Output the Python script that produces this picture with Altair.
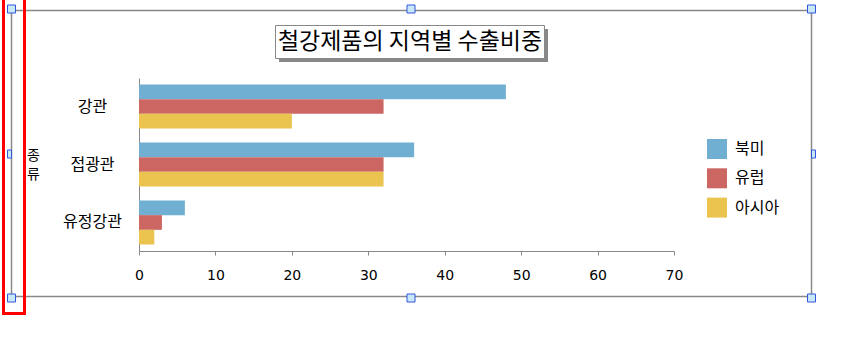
import altair as alt
import pandas as pd

# ---- data ----
categories = ["강관", "접광관", "유정강관"]
regions = ["북미", "유럽", "아시아"]
v_namerica = [48, 36, 6]
v_europe = [32, 32, 3]
v_asia = [20, 32, 2]
x_ticks = [0, 10, 20, 30, 40, 50, 60, 70]
title_text = "철강제품의 지역별 수출비중"
y_title = ["종", "류"]

colors = ["#70AFD1", "#CC6663", "#EBC34F"]

rows = []
for i, c in enumerate(categories):
    for r, vals in zip(regions, [v_namerica, v_europe, v_asia]):
        rows.append({"종류": c, "지역": r, "비중": vals[i]})
df = pd.DataFrame(rows)

# ---- layout (plot area placement) ----
PL, PT = 139, 78          # plot origin in page pixels
W, H = 535, 173
PR = 846 - PL - W
PB = 352 - PT - H

KFONT = "Noto Sans CJK KR"

bars = alt.Chart(df).mark_bar().encode(
    x=alt.X("비중:Q",
            scale=alt.Scale(domain=[0, 70], nice=False),
            axis=alt.Axis(values=x_ticks, title=None, grid=False,
                          domainColor="#888888", tickColor="#888888",
                          tickSize=4, labelFontSize=14, labelFont="DejaVu Sans",
                          labelColor="black", labelPadding=13,
                          labelFlush=False)),
    y=alt.Y("종류:N", sort=categories,
            scale=alt.Scale(paddingInner=0.24, paddingOuter=0.112),
            axis=alt.Axis(title=y_title, titleAngle=0, titleX=-106, titleY=70,
                          titleAlign="center", titleBaseline="top",
                          titleFont=KFONT, titleFontSize=14, titleFontWeight="normal",
                          titleLineHeight=19, titleColor="black",
                          ticks=False, domainColor="#888888",
                          labelFont=KFONT, labelFontSize=16, labelColor="black",
                          labelAlign="center", labelPadding=47)),
    yOffset=alt.YOffset("지역:N", sort=regions,
                        scale=alt.Scale(paddingInner=0, paddingOuter=0)),
    color=alt.Color("지역:N", scale=alt.Scale(domain=regions, range=colors),
                    legend=alt.Legend(title=None, orient="none",
                                      legendX=707 - PL, legendY=139 - PT,
                                      symbolType="square", symbolSize=400,
                                      symbolStrokeWidth=0, symbolOpacity=1,
                                      labelFont=KFONT, labelFontSize=16,
                                      labelColor="black", labelOffset=8,
                                      rowPadding=9.3, padding=0)),
)

one = alt.Data(values=[{}])


def box(x1, y1, x2, y2, **kw):
    """Decoration rectangle given in page pixels."""
    return alt.Chart(one).mark_rect(**kw).encode(
        x=alt.value(x1 - PL), x2=alt.value(x2 - PL),
        y=alt.value(y1 - PT), y2=alt.value(y2 - PT))


layers = []
# outer chart frame
layers.append(box(11.5, 10.5, 811.5, 296.5, fill="transparent",
                  stroke="#888888", strokeWidth=1.5))
# title box shadow + box
layers.append(box(279, 29, 548, 62, fill="#888888"))
layers.append(box(275.5, 25.5, 544.5, 58.5, fill="white",
                  stroke="#888888", strokeWidth=1))
title = alt.Chart(one).mark_text(font=KFONT, fontSize=23, color="black",
                                 align="center", baseline="middle").encode(
    x=alt.value(410 - PL), y=alt.value(42 - PT), text=alt.value(title_text))
layers.append(title)

# selection handles
hcol = dict(fill="#C8E8F8", stroke="#3355DD", strokeWidth=1)
for cx in (11.5, 411, 811.5):
    layers.append(box(cx - 4, 5, cx + 4, 13, **hcol))
    layers.append(box(cx - 4, 294, cx + 4, 302, **hcol))
layers.append(box(7.5, 150, 11.5, 158, **hcol))
layers.append(box(811.5, 150, 815.5, 158, **hcol))

# red highlight rectangle
layers.append(box(3.5, -5, 24.5, 313.5, fill="transparent",
                  stroke="#FF0000", strokeWidth=3))

chart = alt.layer(bars, *layers).properties(
    width=W, height=H,
    autosize=alt.AutoSizeParams(type="none"),
    padding={"left": PL, "top": PT, "right": PR, "bottom": PB},
    background="white",
).configure_view(strokeWidth=0)

chart.save("out.html", embed_options={"renderer": "svg", "actions": False})
